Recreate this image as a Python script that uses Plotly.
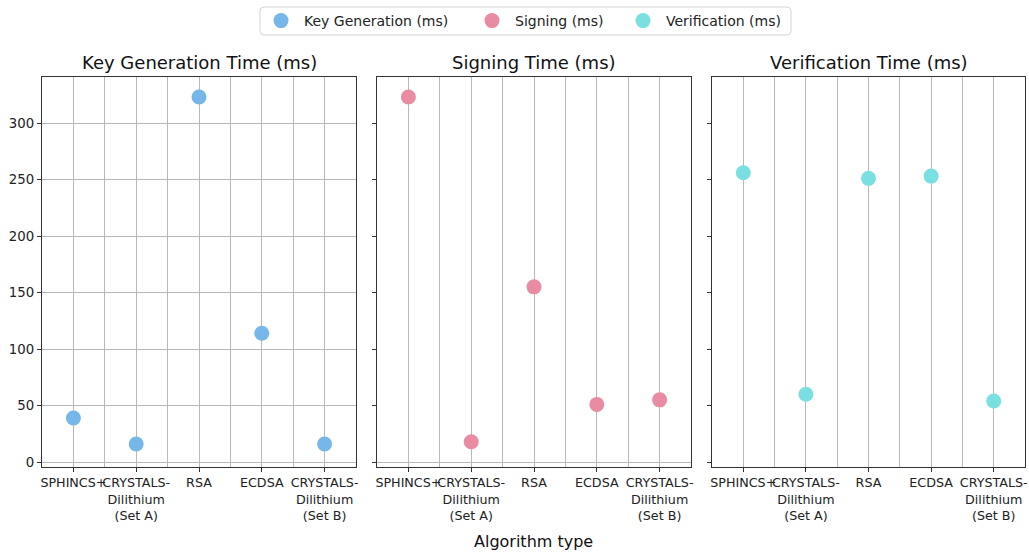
import plotly.graph_objects as go

algorithms = ["SPHINCS+", "CRYSTALS-<br>Dilithium<br>(Set A)", "RSA", "ECDSA", "CRYSTALS-<br>Dilithium<br>(Set B)"]
keygen_ms = [39, 16, 323, 114, 16]
signing_ms = [323, 18, 155, 51, 55]
verification_ms = [256, 60, 251, 253, 54]

series = [
    ("Key Generation (ms)", keygen_ms, "#76b6e8", "Key Generation Time (ms)"),
    ("Signing (ms)", signing_ms, "#e98ba2", "Signing Time (ms)"),
    ("Verification (ms)", verification_ms, "#7adfe0", "Verification Time (ms)"),
]
y_ticks = [0, 50, 100, 150, 200, 250, 300]

FONT = "DejaVu Sans"
W, H = 1029, 553
x_domains = [(42 / W, 356 / W), (377 / W, 691 / W), (712 / W, 1025 / W)]
y_domain = (1 - 467 / H, 1 - 77 / H)
legend_lefts = [258, 469, 620]

fig = go.Figure()
annotations = []
layout_extra = {}
xpos = list(range(len(algorithms)))
for i, (name, vals, color, title) in enumerate(series):
    suffix = "" if i == 0 else str(i + 1)
    fig.add_trace(go.Scatter(
        x=xpos, y=vals, mode="markers", name=name,
        marker=dict(color=color, size=15, line=dict(width=0)),
        xaxis="x" + suffix, yaxis="y" + suffix, legend="legend" + suffix,
    ))
    xa = dict(
        domain=list(x_domains[i]), anchor="y" + suffix, range=[-0.5, 4.5],
        tickmode="array", tickvals=xpos, ticktext=algorithms, tickangle=0,
        ticks="outside", ticklen=4, tickcolor="#333", tickfont=dict(family=FONT, size=12.7, color="#222"),
        showgrid=True, gridcolor="#b8b8b8", gridwidth=1,
        minor=dict(tickmode="linear", tick0=0, dtick=0.5, showgrid=True, gridcolor="#b8b8b8", gridwidth=1, ticks=""),
        showline=True, linecolor="#333", linewidth=1.2, mirror=True, zeroline=False,
        automargin=False,
    )
    ya = dict(
        domain=list(y_domain), anchor="x" + suffix, range=[-4.4, 340.7],
        tickmode="array", tickvals=y_ticks,
        ticks="outside", ticklen=4, tickcolor="#333", tickfont=dict(family=FONT, size=13.3, color="#222"),
        showticklabels=(i == 0),
        showgrid=(i == 0), gridcolor="#b8b8b8", gridwidth=1,
        zeroline=(i == 1), zerolinecolor="#b8b8b8", zerolinewidth=1,
        showline=True, linecolor="#333", linewidth=1.2, mirror=True,
        automargin=False,
    )
    fig.layout["xaxis" + suffix] = xa
    fig.layout["yaxis" + suffix] = ya
    layout_extra["legend" + suffix] = dict(
        orientation="h", x=legend_lefts[i] / W, xanchor="left", y=1 - 21 / H, yanchor="middle",
        borderwidth=0, bgcolor="rgba(0,0,0,0)",
        font=dict(family=FONT, size=14, color="#222"),
        itemwidth=36,
    )
    annotations.append(dict(
        text=title, x=(x_domains[i][0] + x_domains[i][1]) / 2, y=1 - 62 / H,
        xref="paper", yref="paper", xanchor="center", yanchor="middle",
        showarrow=False, font=dict(family=FONT, size=18, color="#111"),
    ))

annotations.append(dict(
    text="Algorithm type", x=533 / W, y=1 - 541 / H, xref="paper", yref="paper",
    xanchor="center", yanchor="middle", showarrow=False,
    font=dict(family=FONT, size=16, color="#111"),
))

# rounded legend frame
x0, x1, y0, y1, r = 260, 791, 7, 35, 4
def px(v):
    return v / W
def py(v):
    return 1 - v / H
path = (
    f"M {px(x0 + r)},{py(y0)} L {px(x1 - r)},{py(y0)} Q {px(x1)},{py(y0)} {px(x1)},{py(y0 + r)} "
    f"L {px(x1)},{py(y1 - r)} Q {px(x1)},{py(y1)} {px(x1 - r)},{py(y1)} "
    f"L {px(x0 + r)},{py(y1)} Q {px(x0)},{py(y1)} {px(x0)},{py(y1 - r)} "
    f"L {px(x0)},{py(y0 + r)} Q {px(x0)},{py(y0)} {px(x0 + r)},{py(y0)} Z"
)

fig.update_layout(
    width=W, height=H,
    margin=dict(l=0, r=0, t=0, b=0, autoexpand=False),
    paper_bgcolor="white", plot_bgcolor="white",
    font=dict(family=FONT, color="#222"),
    annotations=annotations,
    shapes=[dict(type="path", path=path, xref="paper", yref="paper",
                 line=dict(color="#d4d4d4", width=1), fillcolor="rgba(0,0,0,0)", layer="below")],
    showlegend=True,
    **layout_extra,
)

fig.write_html("out.html", post_script="document.body.style.margin='0';",
               config={"displayModeBar": False})
